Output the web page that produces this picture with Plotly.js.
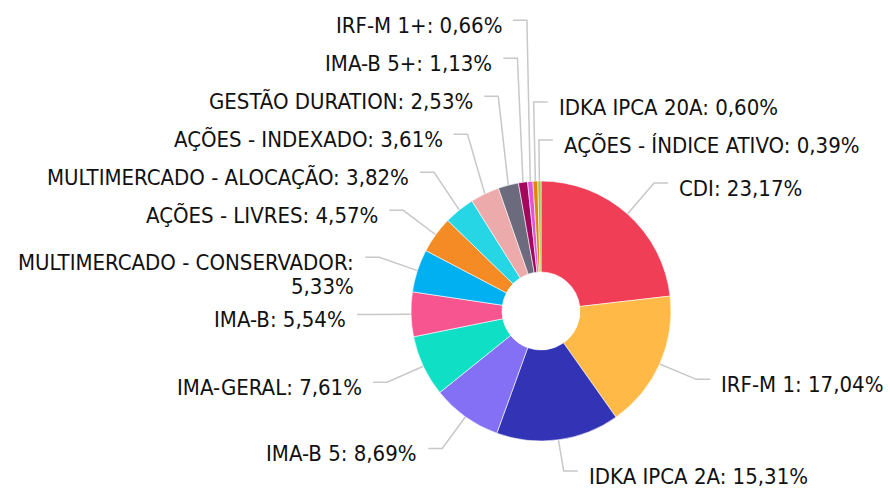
<!DOCTYPE html>
<html><head><meta charset="utf-8">
<script src="https://cdn.plot.ly/plotly-3.0.1.min.js"></script>
<style>html,body{margin:0;padding:0;background:#fff}#chart{width:890px;height:494px}</style>
</head><body><div id="chart"></div>
<script>
// ---- data ----
const categories = [
  'CDI', 'IRF-M 1', 'IDKA IPCA 2A', 'IMA-B 5', 'IMA-GERAL', 'IMA-B',
  'MULTIMERCADO - CONSERVADOR', 'AÇÕES - LIVRES', 'MULTIMERCADO - ALOCAÇÃO',
  'AÇÕES - INDEXADO', 'GESTÃO DURATION', 'IMA-B 5+', 'IRF-M 1+',
  'IDKA IPCA 20A', 'AÇÕES - ÍNDICE ATIVO'
];
const values = [23.17, 17.04, 15.31, 8.69, 7.61, 5.54, 5.33, 4.57, 3.82, 3.61, 2.53, 1.13, 0.66, 0.60, 0.39];
const colors = [
  '#ef3e55', '#ffb946', '#3333b5', '#8470f5', '#0fdfc5', '#f65590',
  '#00b0f0', '#f48b25', '#27d6e4', '#ecaaaa', '#6c6b7e', '#a3085c',
  '#e154d6', '#e0860c', '#a5c43b'
];

// ---- layout constants ----
const W = 890, H = 494;
const CX = 541, CY = 311, R = 130, HOLE = 0.3;
const LABEL_R = 170, LABEL_CY = CY - 1;
const SEG = 14, GAP = 10;
const ROW = 38, EXTRA_LINE = 19, LINE_H = 24, TEXT_DY = 5;
const MIN_Y = 14, MAX_Y = 471;
const TOP_WRAP = 3.5;
const FONT_FAMILY = '"DejaVu Sans Condensed", "DejaVu Sans", sans-serif';
const FONT_SIZE = 22;
const TEXT_COLOR = '#111111';
const CONNECTOR_COLOR = '#c8c8c8';

const fmt = v => v.toFixed(2).replace('.', ',') + '%';

const ctx = document.createElement('canvas').getContext('2d');
ctx.font = FONT_SIZE + 'px ' + FONT_FAMILY;
const measure = t => ctx.measureText(t).width;

function wrap(text, maxW) {
  if (measure(text) <= maxW) return [text];
  const words = text.split(' ');
  const lines = [];
  let cur = '';
  words.forEach(w => {
    const t = cur ? cur + ' ' + w : w;
    if (cur && measure(t) > maxW) { lines.push(cur); cur = w; }
    else cur = t;
  });
  if (cur) lines.push(cur);
  return lines;
}

// ---- compute label positions from the data ----
const total = values.reduce((a, b) => a + b, 0);
let cum = 0;
const items = values.map((v, i) => {
  const mid = (cum + v / 2) / total * 360;
  cum += v;
  const rad = mid * Math.PI / 180;
  const right = mid < 180 || mid > 360 - TOP_WRAP;
  const breakX = CX + LABEL_R * Math.sin(rad);
  const textX = right ? breakX + SEG + GAP : breakX - SEG - GAP;
  const text = categories[i] + ': ' + fmt(v);
  const avail = right ? (W - 6 - textX) : (textX - 6);
  const lines = wrap(text, avail);
  return {
    i, mid, right, breakX, textX, lines,
    order: right ? (mid > 180 ? mid - 360 : mid) : -mid,
    y: Math.min(Math.max(LABEL_CY - LABEL_R * Math.cos(rad), MIN_Y), MAX_Y - (lines.length - 1) * EXTRA_LINE),
    touchX: CX + R * Math.sin(rad),
    touchY: CY - R * Math.cos(rad)
  };
});

function distribute(list) {
  list.sort((a, b) => a.order - b.order);
  const gap = it => ROW + (it.lines.length - 1) * EXTRA_LINE;
  for (let k = list.length - 2; k >= 0; k--) {
    list[k].y = Math.min(list[k].y, list[k + 1].y - gap(list[k]));
  }
  if (list.length) list[0].y = Math.max(list[0].y, MIN_Y);
  for (let k = 1; k < list.length; k++) {
    list[k].y = Math.max(list[k].y, list[k - 1].y + gap(list[k - 1]));
  }
}
distribute(items.filter(it => it.right));
distribute(items.filter(it => !it.right));

const px = x => x / W, py = y => 1 - y / H;
const annotations = [];
const shapes = [];
items.forEach(it => {
  it.lines.forEach((ln, j) => {
    annotations.push({
      xref: 'paper', yref: 'paper',
      x: px(it.textX), y: py(it.y + TEXT_DY + j * LINE_H),
      xanchor: it.right ? 'left' : 'right', yanchor: 'middle',
      text: ln, showarrow: false, borderpad: 0,
      font: {family: FONT_FAMILY, size: FONT_SIZE, color: TEXT_COLOR}
    });
  });
  const sx = it.right ? it.breakX + SEG : it.breakX - SEG;
  shapes.push({
    type: 'path', xref: 'paper', yref: 'paper', layer: 'below',
    path: `M ${px(sx)},${py(it.y)} L ${px(it.breakX)},${py(it.y)} L ${px(it.touchX)},${py(it.touchY)}`,
    line: {color: CONNECTOR_COLOR, width: 1.5}
  });
});

const trace = {
  type: 'pie',
  labels: categories,
  values: values,
  marker: {colors: colors, line: {color: '#ffffff', width: 0.6}},
  hole: HOLE,
  sort: false,
  direction: 'clockwise',
  rotation: 0,
  textinfo: 'none',
  hoverinfo: 'label+percent',
  domain: {x: [(CX - R) / W, (CX + R) / W], y: [1 - (CY + R) / H, 1 - (CY - R) / H]}
};

Plotly.newPlot('chart', [trace], {
  width: W, height: H,
  margin: {l: 0, r: 0, t: 0, b: 0},
  showlegend: false,
  paper_bgcolor: '#ffffff',
  annotations: annotations,
  shapes: shapes
}, {displayModeBar: false, staticPlot: true});
</script>
</body></html>
